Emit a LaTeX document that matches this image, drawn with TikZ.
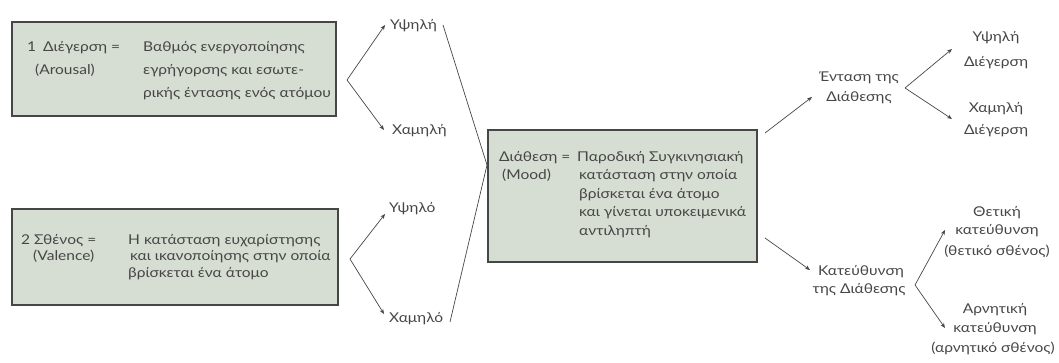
\documentclass[tikz,border=0pt]{standalone}
\usepackage{fontspec}
\setmainfont[FakeStretch=1.15]{Lato}
\usetikzlibrary{arrows.meta}
\definecolor{boxfill}{RGB}{214,221,210}
\definecolor{ink}{RGB}{70,70,70}
\tikzset{
  box/.style={draw=ink, line width=1.1pt, fill=boxfill, inner sep=0pt},
  txt/.style={inner sep=0pt, text=ink, font=\fontsize{13.5}{16}\selectfont, anchor=base west},
  ctxt/.style={txt, anchor=base},
  arr/.style={draw=ink, line width=0.7pt, -{Stealth[length=5pt,width=4pt]}},
  ln/.style={draw=ink, line width=0.7pt}
}
\begin{document}
\begin{tikzpicture}[x=1pt,y=-1pt]
\useasboundingbox (0,0) rectangle (1059,363);
% boxes
\node[box, minimum width=324pt, minimum height=94pt] (b1) at (174,69) {};
\node[box, minimum width=326pt, minimum height=96pt] (b2) at (175,257) {};
\node[box, minimum width=269pt, minimum height=132pt] (mood) at (622.5,196) {};
% box 1 text
\node[txt] (b1n) at (27,52) {1};
\node[txt] (b1l1) at (43,52) {Διέγερση =};
\node[txt] (b1l2) at (35,75) {(Arousal)};
\node[txt] (b1r1) at (143,52) {Βαθμός ενεργοποίησης};
\node[txt] (b1r2) at (143,75) {εγρήγορσης και εσωτε-};
\node[txt] (b1r3) at (143,98) {ρικής έντασης ενός ατόμου};
% box 2 text
\node[txt] (b2n) at (21,244) {2};
\node[txt] (b2l1) at (34,244) {Σθένος =};
\node[txt] (b2l2) at (33,261) {(Valence)};
\node[txt] (b2r1) at (128,244) {Η κατάσταση ευχαρίστησης};
\node[txt] (b2r2) at (130,261) {και ικανοποίησης στην οποία};
\node[txt] (b2r3) at (128,277) {βρίσκεται ένα άτομο};
% mood text
\node[txt] (ml1) at (499,162) {Διάθεση =};
\node[txt] (ml2) at (502,180) {(Mood)};
\node[txt] (mr1) at (577,162) {Παροδική Συγκινησιακή};
\node[txt] (mr2) at (579,180) {κατάσταση στην οποία};
\node[txt] (mr3) at (579,198.5) {βρίσκεται ένα άτομο};
\node[txt] (mr4) at (579,217) {και γίνεται υποκειμενικά};
\node[txt] (mr5) at (579,235.5) {αντιληπτή};
% level labels
\node[txt] (hi1) at (390,30) {Υψηλή};
\node[txt] (lo1) at (392,135) {Χαμηλή};
\node[txt] (hi2) at (389,213) {Υψηλό};
\node[txt] (lo2) at (389,322) {Χαμηλό};
\coordinate (a1) at (347,80);
\coordinate (a2) at (350,259);
\coordinate (h1t) at (385,25);
\coordinate (l1t) at (384,130);
\coordinate (h2t) at (385,214);
\coordinate (l2t) at (384,314);
\draw[arr] (a1) -- (h1t);
\draw[arr] (a1) -- (l1t);
\draw[arr] (a2) -- (h2t);
\draw[arr] (a2) -- (l2t);
\coordinate (conv) at (487,165);
\coordinate (t1) at (443,25);
\coordinate (t2) at (450,322);
\draw[ln] (t1) -- (conv) -- (t2);
% right side: intensity
\node[ctxt] (ent1) at (859,82) {Ένταση της};
\node[ctxt] (ent2) at (859,102) {Διάθεσης};
\node[ctxt] (hd1) at (996,42) {Υψηλή};
\node[ctxt] (hd2) at (996,67) {Διέγερση};
\node[ctxt] (ld1) at (996,113) {Χαμηλή};
\node[ctxt] (ld2) at (996,135) {Διέγερση};
\coordinate (m1) at (765,133);
\coordinate (e0) at (812,97);
\draw[arr] (m1) -- (e0);
\coordinate (ea) at (905,88);
\coordinate (hdt) at (952,49);
\coordinate (ldt) at (952,119);
\draw[arr] (ea) -- (hdt);
\draw[arr] (ea) -- (ldt);
% right side: direction
\node[ctxt] (kat1) at (861,275) {Κατεύθυνση};
\node[ctxt] (kat2) at (859,293) {της Διάθεσης};
\node[ctxt] (pos1) at (997,217) {Θετική};
\node[ctxt] (pos2) at (997,235) {κατεύθυνση};
\node[ctxt] (pos3) at (997,255) {(θετικό σθένος)};
\node[ctxt] (neg1) at (995,313) {Αρνητική};
\node[ctxt] (neg2) at (995,332) {κατεύθυνση};
\node[ctxt] (neg3) at (993,352) {(αρνητικό σθένος)};
\coordinate (m2) at (765,238);
\coordinate (k0) at (810,270);
\draw[arr] (m2) -- (k0);
\coordinate (ka) at (915,285);
\coordinate (pt) at (945,230);
\coordinate (nt) at (945,328);
\draw[arr] (ka) -- (pt);
\draw[arr] (ka) -- (nt);
\end{tikzpicture}
\end{document}
